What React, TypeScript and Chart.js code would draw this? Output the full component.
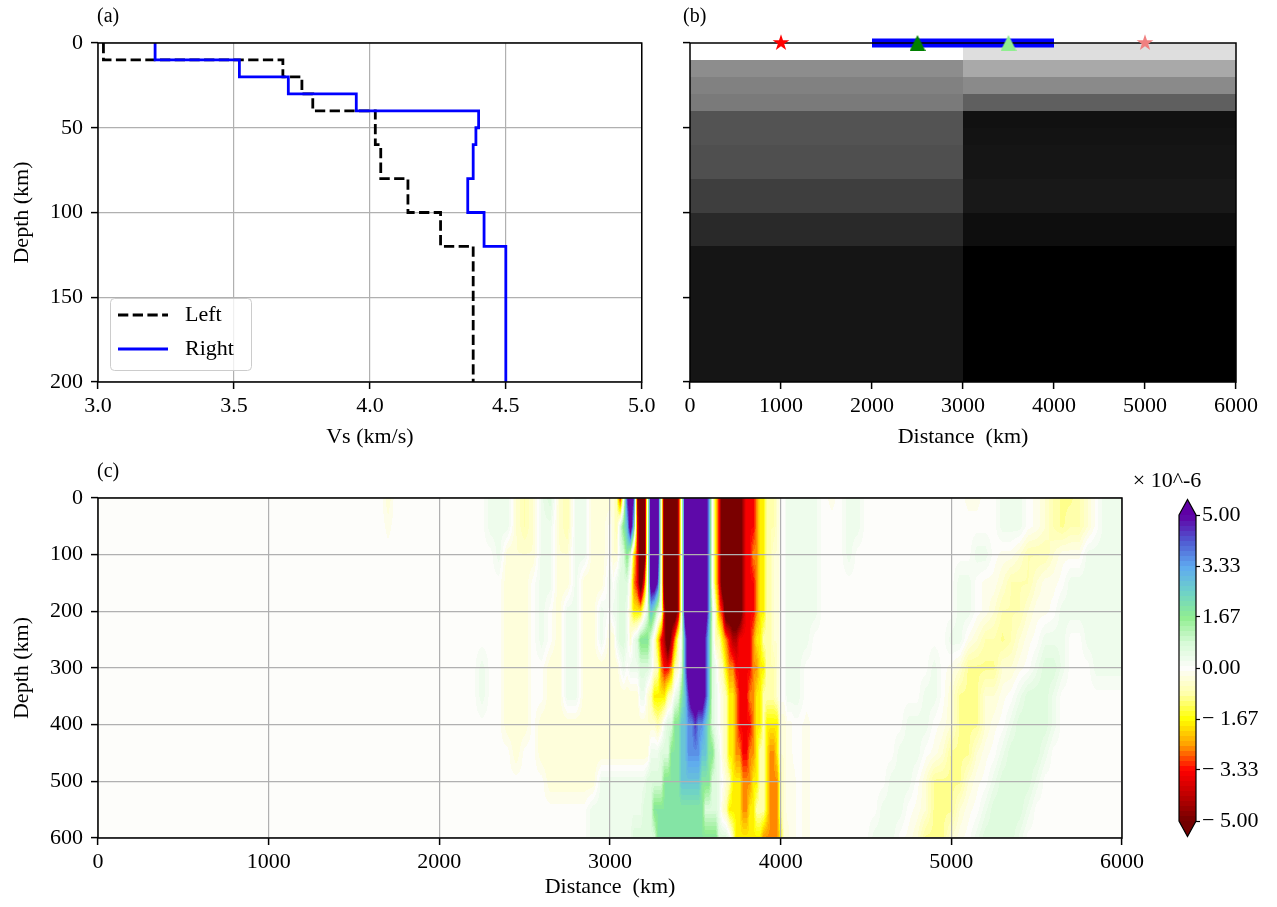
import { useEffect, useRef } from 'react';
import { Chart, registerables } from 'chart.js';

Chart.register(...registerables);

const SERIF = "'Liberation Serif', 'Times New Roman', serif";
const FS = 22;
const FS_PANEL = 20;
Chart.defaults.font.family = SERIF;
Chart.defaults.font.size = FS;
Chart.defaults.color = '#000';

// ---------- (a) / (b): two layered shear-velocity models ----------
const layerTopKm = [0, 10, 20, 30, 40, 50, 60, 80, 100, 120];
const modelBottomKm = 200;
const leftVs = [3.02, 3.68, 3.75, 3.79, 4.02, 4.02, 4.04, 4.14, 4.26, 4.38];
const rightVs = [3.21, 3.52, 3.70, 3.95, 4.40, 4.39, 4.38, 4.36, 4.42, 4.50];
const blockEdgesKm = [0, 3000, 6000];

// surface markers on the model section (distance in km, at depth 0)
const sourceStarKm = [1000];
const mirrorStarKm = [5000];
const stationDarkKm = [2500];
const stationLightKm = [3500];
const arrayEndsKm = [2000, 4000];

// ---------- (c): wavefield snapshot, units of 1e-6 ----------
// one character per grid node; see fieldLevel for the values
const fieldLevel: Record<string, number> = {
  D: -6, r: -4.3, R: -3.4, O: -2.6, Y: -1.8, x: -0.95, y: -0.75, w: -0.4, v: -0.15,
  '.': 0, h: 0.35, g: 0.7, G: 1.9, C: 2.8, B: 3.6, p: 4.5, P: 6,
};
const fieldDepthKm = [0, 50, 100, 150, 200, 250, 300, 350, 400, 450, 500, 550, 600];

const fieldKmA = [0, 1660, 1700, 1740, 2150, 2200, 2250, 2300, 2350, 2400, 2450, 2500, 2550, 2600, 2650, 2700, 2750, 2800, 2850, 2900, 2950];
const fieldRowsA = [
  '..w....hhhwywhgwyhhww',
  '..v....hhhwywhhwyhhww',
  '........hwwwwhhwwhhww',
  '.........www.hhwwhwww',
  '.........www.h.whhwwh',
  '.........www.h.whhwwh',
  '......h..www..wwhhwww',
  '......h..www..wwhhwww',
  '.........www.wwwwwwww',
  '..........w..wwwwwwww',
  '..............wwwwwwh',
  '...................hh',
  '...................hh',
];

const fieldKmB = [3000, 3020, 3040, 3060, 3080, 3100, 3120, 3140, 3160, 3180, 3200, 3220, 3240, 3260, 3280, 3300, 3320, 3340, 3360, 3380, 3400, 3420, 3440];
const fieldRowsB = [
  'wwyR.pPprDD.PPP.DDDDr.P',
  '.wygGCPCRDD.PPP.DDDDr.P',
  '.wwhgGgYRDD.PPP.DDDDr.P',
  'h.hgggwORDR.PPp.DDDDr.P',
  '.hhgghyYYYwgCGg.rDDDr.P',
  'wwhgghwhgGGGgwYRrDrOyhB',
  'www.h.hhhggghwyORROywgB',
  'w9hhwyYYYYywhgGC',
  'w14ywhggGGCC',
  'w12hhhgggGGGCC',
  'h11gggggGGGGGCC',
  'h10gggG10',
  'h7g7G9',
];

const fieldKmC = [3460, 3480, 3500, 3520, 3540, 3560, 3580, 3600, 3620];
const fieldRowsC = [
  'PPPPPPB.Y',
  'PPPPPPB.Y',
  'PPPPPPB.Y',
  'PPPPPPB.Y',
  'PPPPPPBgy',
  'PPPPPpCgy',
  'PPPPPpCgh',
  'pPPPPpCgh',
  'BBpBBCGgh',
  'BBBBCCGGg',
  'CCCCGGGgg',
  'GGGGGgggg',
  'GGGGGGGGG',
];

const fieldKmD = [3640, 3660, 3680, 3700, 3720, 3740, 3760, 3780, 3800, 3820, 3840, 3860, 3880, 3900, 3920, 3940, 3960, 3980, 4000, 4020, 4040, 4060, 4080, 4100];
const fieldRowsD = [
  'RDDDDDDrRRROYYyyyw..hhhh',
  'RDDDDDDrRRROYYyyyw..hhhh',
  'RDDDDDDrRROOYYyyww..hhhh',
  'RDDDDDDrRRROYYyyww..hhhh',
  'ORDDDDDrRRROYYyyww..hhhh',
  'yYORrrRRRROYYyyyww..hhhh',
  'wyYOORRRRROOYYyyyw..hhhh',
  '.wyYYORRROOYYyyyyw..hhhh',
  '.wyYYORRRROYYyYYYYwwvv..',
  'hwyYYOORROOYyyYOOYwwvv..',
  'h.wyYYYOOOYYyyYOOOywvvv.',
  'hwyYYYYOOYYyyyYOOOywvvv.',
  'ggghyYYYYYYYYOOOOOYwwvv.',
];

const fieldKmE = [4150, 4200, 4250, 4300, 4350, 4400, 4450, 4500, 4550, 4600, 4650, 4700, 4750, 4800, 4850, 4900, 4950, 5000, 5050, 5100, 5150, 5200, 5250, 5300, 5350, 5400, 5450, 5500, 5550, 5600, 5650, 5700, 5750, 5800, 5850, 5900, 5950, 6000];
const fieldRowsE = [
  'hh.v.hh.12vv..hhh.vwyxxyw.hhh',
  'hh...hh.16hhh.vwyxyyw.hhh',
  'hh...h.14hh.vvwyyywvvvhhhhh',
  'hh.16hh.vvwyyywvv.hhhhhhh',
  'hh.16hh.vwyyywvv.h8',
  'h.16hhvwyyxywv.hhh..h5',
  '.15h.vwxxxxwwv.hggh...hhhh',
  '.14hh.wxxxwwv.hgggh.8',
  'v.11hhh.vwxxxwv.hggggh.8',
  'v.10hhh.vwxxxwv.hggggh.9',
  'v.9hhh.wxxxxwv.hggggh.10',
  'v.8hhh.vwxxxwv.hggggh.11',
  'v.7hhh.vwxxxwv.hggggh.12',
];

// colour scale of the snapshot
const cmapStops = [-5, -4.167, -3.333, -2.5, -1.667, -0.833, 0, 0.833, 1.667, 2.5, 3.333, 4.167, 5];
const cmapRGB = [
  [115, 0, 0], [190, 0, 0], [255, 0, 0], [255, 160, 0], [255, 255, 0], [255, 255, 170],
  [253, 253, 250], [215, 250, 215], [145, 238, 145], [110, 210, 200], [95, 170, 240], [80, 90, 210], [95, 0, 165],
];
const colorbarTicks = [-5, -3.333, -1.667, 0, 1.667, 3.333, 5];
const BANDS = 61;

// ---------- helpers ----------
const expandRow = (s: string) => s.replace(/(\D)(\d+)/g, (_m: string, c: string, n: string) => c.repeat(Number(n)));

function buildField() {
  const xs = [...fieldKmA, ...fieldKmB, ...fieldKmC, ...fieldKmD, ...fieldKmE];
  const rows = fieldDepthKm.map((_, i) => {
    const s = expandRow(fieldRowsA[i]) + expandRow(fieldRowsB[i]) + expandRow(fieldRowsC[i]) +
      expandRow(fieldRowsD[i]) + expandRow(fieldRowsE[i]);
    if (s.length !== xs.length) console.warn('field row', i, s.length, xs.length);
    return Array.from(s).map((ch) => fieldLevel[ch] ?? 0);
  });
  return { xs, rows };
}

function cmap(v: number) {
  const t = Math.max(-5, Math.min(5, v));
  let k = 0;
  while (k < cmapStops.length - 2 && cmapStops[k + 1] < t) k++;
  const f = (t - cmapStops[k]) / (cmapStops[k + 1] - cmapStops[k]);
  const a = cmapRGB[k], b = cmapRGB[k + 1];
  return [0, 1, 2].map((c) => Math.round(a[c] + (b[c] - a[c]) * f));
}
const bandStep = 10 / BANDS;
const bandColors = Array.from({ length: BANDS }, (_, k) => cmap(-5 + (k + 0.5) * bandStep));
const bandIndex = (v: number) => Math.max(0, Math.min(BANDS - 1, Math.floor((v + 5) / bandStep)));
const rgb = (c: number[]) => `rgb(${c[0]},${c[1]},${c[2]})`;

const stepPath = (vs: number[]) =>
  vs.flatMap((v, i) => [
    { x: v, y: layerTopKm[i] },
    { x: v, y: i + 1 < layerTopKm.length ? layerTopKm[i + 1] : modelBottomKm },
  ]);

function starImage(color: string, r: number) {
  const size = Math.ceil(2 * r) + 2;
  const c = document.createElement('canvas');
  c.width = size; c.height = size;
  const g = c.getContext('2d')!;
  const cx = size / 2, cy = size / 2;
  g.beginPath();
  for (let k = 0; k < 10; k++) {
    const rad = k % 2 === 0 ? r : r * 0.382;
    const a = -Math.PI / 2 + (k * Math.PI) / 5;
    g.lineTo(cx + rad * Math.cos(a), cy + rad * Math.sin(a));
  }
  g.closePath();
  g.fillStyle = color;
  g.fill();
  return c;
}
function triangleImage(color: string, s: number) {
  const c = document.createElement('canvas');
  c.width = s; c.height = s;
  const g = c.getContext('2d')!;
  g.beginPath();
  g.moveTo(s / 2, 0); g.lineTo(s, s); g.lineTo(0, s); g.closePath();
  g.fillStyle = color;
  g.fill();
  return c;
}

const drawFrame = (chart: any) => {
  const { ctx, chartArea: a } = chart;
  ctx.save();
  ctx.strokeStyle = '#000';
  ctx.lineWidth = 1.5;
  ctx.strokeRect(a.left, a.top, a.right - a.left, a.bottom - a.top);
  ctx.restore();
};
const framePlugin = { id: 'frame', afterDraw: drawFrame };

const labelPlugin = (text: string, x: number, y: number) => ({
  id: 'panelLabel',
  afterDraw(chart: any) {
    const ctx = chart.ctx;
    ctx.save();
    ctx.font = `${FS_PANEL}px ${SERIF}`;
    ctx.fillStyle = '#000';
    ctx.textAlign = 'left';
    ctx.textBaseline = 'middle';
    ctx.fillText(text, x, y);
    ctx.restore();
  },
});

const tickFont = { family: SERIF, size: FS };
const gridStyle = { color: '#b0b0b0', lineWidth: 1.2, tickColor: '#000', tickLength: 7, tickWidth: 1.5 };

function xAxis(min: number, max: number, step: number, title: string, height: number, fmt: (v: number) => string, onArea = true) {
  return {
    type: 'linear', min, max,
    ticks: { stepSize: step, autoSkip: false, maxRotation: 0, padding: 4.5, font: tickFont, callback: (v: any) => fmt(Number(v)) },
    grid: { ...gridStyle, drawOnChartArea: onArea },
    border: { display: false },
    title: { display: true, text: title, font: tickFont, padding: 0 },
    afterFit: (s: any) => { s.height = height; },
  };
}
function yAxis(max: number, step: number, title: string | null, width: number, onArea = true) {
  return {
    type: 'linear', min: 0, max, reverse: true,
    ticks: { stepSize: step, display: title !== null, autoSkip: false, padding: 8, font: tickFont, callback: (v: any) => String(v) },
    grid: { ...gridStyle, drawOnChartArea: onArea },
    border: { display: false },
    title: { display: title !== null, text: title ?? '', font: tickFont, padding: 0 },
    afterFit: (s: any) => { s.width = width; },
  };
}

// ---------- chart configs ----------
function profileConfig(): any {
  const legendPlugin = {
    id: 'vsLegend',
    afterDraw(chart: any) {
      const ctx = chart.ctx;
      ctx.save();
      ctx.beginPath();
      ctx.roundRect(110.5, 298.5, 141, 72, 4);
      ctx.fillStyle = 'rgba(255,255,255,0.8)';
      ctx.fill();
      ctx.strokeStyle = '#cccccc';
      ctx.lineWidth = 1;
      ctx.stroke();
      ['Left', 'Right'].forEach((name, i) => {
        const ds = chart.data.datasets.find((d: any) => d.label === name);
        const yy = 315 + i * 34;
        ctx.beginPath();
        ctx.setLineDash(ds.borderDash || []);
        ctx.strokeStyle = ds.borderColor;
        ctx.lineWidth = ds.borderWidth;
        ctx.moveTo(118, yy);
        ctx.lineTo(168, yy);
        ctx.stroke();
        ctx.setLineDash([]);
        ctx.font = `${FS}px ${SERIF}`;
        ctx.fillStyle = '#000';
        ctx.textBaseline = 'middle';
        ctx.fillText(name, 185, yy);
      });
      ctx.restore();
    },
  };
  return {
    type: 'scatter',
    data: {
      datasets: [
        { label: 'Right', data: stepPath(rightVs), showLine: true, borderColor: '#0000ff', borderWidth: 2.8, pointRadius: 0, order: 1 },
        { label: 'Left', data: stepPath(leftVs), showLine: true, borderColor: '#000000', borderDash: [10.3, 4.4], borderWidth: 2.8, pointRadius: 0, order: 2 },
      ],
    },
    options: {
      responsive: false, animation: false, devicePixelRatio: 1,
      layout: { padding: { left: 9, top: 43, right: 17, bottom: 0 } },
      plugins: { legend: { display: false }, tooltip: { enabled: false } },
      scales: {
        x: xAxis(3, 5, 0.5, 'Vs (km/s)', 68, (v) => v.toFixed(1)),
        y: yAxis(200, 50, 'Depth (km)', 89),
      },
    },
    plugins: [framePlugin, legendPlugin, labelPlugin('(a)', 97, 17)],
  };
}

function sectionConfig(): any {
  const imagePlugin = {
    id: 'modelImage',
    beforeDatasetsDraw(chart: any) {
      const { ctx, scales: { x, y } } = chart;
      const all = [...leftVs, ...rightVs];
      const lo = Math.min(...all), hi = Math.max(...all);
      [leftVs, rightVs].forEach((vs, side) => {
        const x0 = Math.round(x.getPixelForValue(blockEdgesKm[side]));
        const x1 = Math.round(x.getPixelForValue(blockEdgesKm[side + 1]));
        vs.forEach((v, i) => {
          const y0 = Math.round(y.getPixelForValue(layerTopKm[i]));
          const y1 = Math.round(y.getPixelForValue(i + 1 < layerTopKm.length ? layerTopKm[i + 1] : modelBottomKm));
          const g = Math.round(255 * (1 - (v - lo) / (hi - lo)));
          ctx.fillStyle = `rgb(${g},${g},${g})`;
          ctx.fillRect(x0, y0, x1 - x0, y1 - y0);
        });
      });
    },
    afterDatasetDraw(chart: any, args: any) {
      if (args.meta.label === 'array') drawFrame(chart);
    },
  };
  const pts = (arr: number[]) => arr.map((km) => ({ x: km, y: 0 }));
  return {
    type: 'scatter',
    data: {
      datasets: [
        { label: 'source', data: pts(sourceStarKm), pointStyle: starImage('#ff0000', 8.8), pointRadius: 8, clip: false },
        { label: 'station', data: pts(stationDarkKm), pointStyle: triangleImage('#008000', 16), pointRadius: 8, clip: false },
        { label: 'station2', data: pts(stationLightKm), pointStyle: triangleImage('#90ee90', 16), pointRadius: 8, clip: false },
        { label: 'mirror', data: pts(mirrorStarKm), pointStyle: starImage('#f08080', 8.8), pointRadius: 8, clip: false },
        { label: 'array', data: pts(arrayEndsKm), showLine: true, borderColor: '#0000ff', borderWidth: 9, borderCapStyle: 'butt', pointRadius: 0, clip: false },
      ],
    },
    options: {
      responsive: false, animation: false, devicePixelRatio: 1,
      layout: { padding: { left: 0, top: 43, right: 41, bottom: 0 } },
      plugins: { legend: { display: false }, tooltip: { enabled: false } },
      scales: {
        x: xAxis(0, 6000, 1000, 'Distance  (km)', 68, (v) => String(v), false),
        y: yAxis(200, 50, null, 30, false),
      },
    },
    plugins: [imagePlugin, labelPlugin('(b)', 23, 17)],
  };
}

function wavefieldConfig(): any {
  const field = buildField();
  const fieldPlugin = {
    id: 'wavefield',
    beforeDraw(chart: any) {
      const { ctx, chartArea: a, scales: { x, y } } = chart;
      const L = Math.round(a.left), T = Math.round(a.top);
      const W = Math.round(a.right) - L, H = Math.round(a.bottom) - T;
      const img = ctx.createImageData(W, H);
      const xs = field.xs, nx = xs.length, ny = fieldDepthKm.length;
      const cj = new Int32Array(W), ct = new Float32Array(W);
      for (let c = 0; c < W; c++) {
        const km = x.getValueForPixel(L + c + 0.5);
        let j = 0;
        while (j < nx - 2 && xs[j + 1] < km) j++;
        ct[c] = Math.max(0, Math.min(1, (km - xs[j]) / (xs[j + 1] - xs[j])));
        cj[c] = j;
      }
      for (let r = 0; r < H; r++) {
        const d = y.getValueForPixel(T + r + 0.5);
        let i = 0;
        while (i < ny - 2 && fieldDepthKm[i + 1] < d) i++;
        const s = Math.max(0, Math.min(1, (d - fieldDepthKm[i]) / (fieldDepthKm[i + 1] - fieldDepthKm[i])));
        const r0 = field.rows[i], r1 = field.rows[i + 1];
        for (let c = 0; c < W; c++) {
          const j = cj[c], t = ct[c];
          const v0 = r0[j] + (r0[j + 1] - r0[j]) * t;
          const v1 = r1[j] + (r1[j + 1] - r1[j]) * t;
          const col = bandColors[bandIndex(v0 + (v1 - v0) * s)];
          const p = (r * W + c) * 4;
          img.data[p] = col[0]; img.data[p + 1] = col[1]; img.data[p + 2] = col[2]; img.data[p + 3] = 255;
        }
      }
      ctx.putImageData(img, L, T);
    },
  };
  return {
    type: 'scatter',
    data: { datasets: [] },
    options: {
      responsive: false, animation: false, devicePixelRatio: 1,
      layout: { padding: { left: 9, top: 43, right: 28, bottom: 7 } },
      plugins: { legend: { display: false }, tooltip: { enabled: false } },
      scales: {
        x: xAxis(0, 6000, 1000, 'Distance  (km)', 62, (v) => String(v)),
        y: yAxis(600, 100, 'Depth (km)', 89),
      },
    },
    plugins: [fieldPlugin, framePlugin, labelPlugin('(c)', 97, 17)],
  };
}

function colorbarConfig(): any {
  const barPlugin = {
    id: 'colorbar',
    beforeDraw(chart: any) {
      const { ctx, chartArea: a, scales: { y } } = chart;
      ctx.save();
      for (let k = 0; k < BANDS; k++) {
        const lo = -5 + k * bandStep;
        const yTop = Math.floor(y.getPixelForValue(lo + bandStep));
        const yBot = Math.ceil(y.getPixelForValue(lo));
        ctx.fillStyle = rgb(bandColors[k]);
        ctx.fillRect(a.left, yTop, a.right - a.left, yBot - yTop);
      }
      const xc = (a.left + a.right) / 2, ext = 15.5;
      ctx.fillStyle = rgb(cmap(5));
      ctx.beginPath(); ctx.moveTo(a.left, a.top); ctx.lineTo(xc, a.top - ext); ctx.lineTo(a.right, a.top); ctx.closePath(); ctx.fill();
      ctx.fillStyle = rgb(cmap(-5));
      ctx.beginPath(); ctx.moveTo(a.left, a.bottom); ctx.lineTo(xc, a.bottom + ext); ctx.lineTo(a.right, a.bottom); ctx.closePath(); ctx.fill();
      ctx.beginPath();
      ctx.moveTo(a.left, a.top); ctx.lineTo(xc, a.top - ext); ctx.lineTo(a.right, a.top);
      ctx.lineTo(a.right, a.bottom); ctx.lineTo(xc, a.bottom + ext); ctx.lineTo(a.left, a.bottom); ctx.closePath();
      ctx.strokeStyle = '#000'; ctx.lineWidth = 1.2; ctx.stroke();
      ctx.font = `${FS}px ${SERIF}`;
      ctx.fillStyle = '#000';
      ctx.textAlign = 'center';
      ctx.textBaseline = 'middle';
      ctx.fillText('\u00d7 10^-6', 37, 26);
      ctx.restore();
    },
  };
  return {
    type: 'scatter',
    data: { datasets: [] },
    options: {
      responsive: false, animation: false, devicePixelRatio: 1,
      layout: { padding: { left: 49, top: 60, right: 0, bottom: 34 } },
      plugins: { legend: { display: false }, tooltip: { enabled: false } },
      scales: {
        x: { display: false, min: 0, max: 1 },
        y: {
          type: 'linear', position: 'right', min: -5, max: 5,
          afterBuildTicks: (s: any) => { s.ticks = colorbarTicks.map((v) => ({ value: v })); },
          ticks: {
            autoSkip: false, padding: 2, font: tickFont,
            callback: (v: any) => (Number(v) < 0 ? '\u2212 ' : '') + Math.abs(Number(v)).toFixed(2),
          },
          grid: { drawOnChartArea: false, tickColor: '#000', tickLength: 4, tickWidth: 1.2 },
          border: { display: false },
          afterFit: (s: any) => { s.width = 81; },
        },
      },
    },
    plugins: [barPlugin],
  };
}

export default function App() {
  const aRef = useRef<HTMLCanvasElement>(null);
  const bRef = useRef<HTMLCanvasElement>(null);
  const cRef = useRef<HTMLCanvasElement>(null);
  const dRef = useRef<HTMLCanvasElement>(null);

  useEffect(() => {
    const charts = [
      new Chart(aRef.current!, profileConfig()),
      new Chart(bRef.current!, sectionConfig()),
      new Chart(cRef.current!, wavefieldConfig()),
      new Chart(dRef.current!, colorbarConfig()),
    ];
    return () => charts.forEach((c) => c.destroy());
  }, []);

  const place = (left: number, top: number, width: number, height: number): any => ({
    position: 'absolute', left, top, width, height,
  });

  return (
    <div style={{ position: 'absolute', left: 0, top: 0, width: 1277, height: 907, background: '#fff', overflow: 'hidden' }}>
      <canvas ref={aRef} width={660} height={450} style={place(0, 0, 660, 450)} />
      <canvas ref={bRef} width={617} height={450} style={place(660, 0, 617, 450)} />
      <canvas ref={cRef} width={1150} height={452} style={place(0, 455, 1150, 452)} />
      <canvas ref={dRef} width={147} height={400} style={place(1130, 455, 147, 400)} />
    </div>
  );
}
